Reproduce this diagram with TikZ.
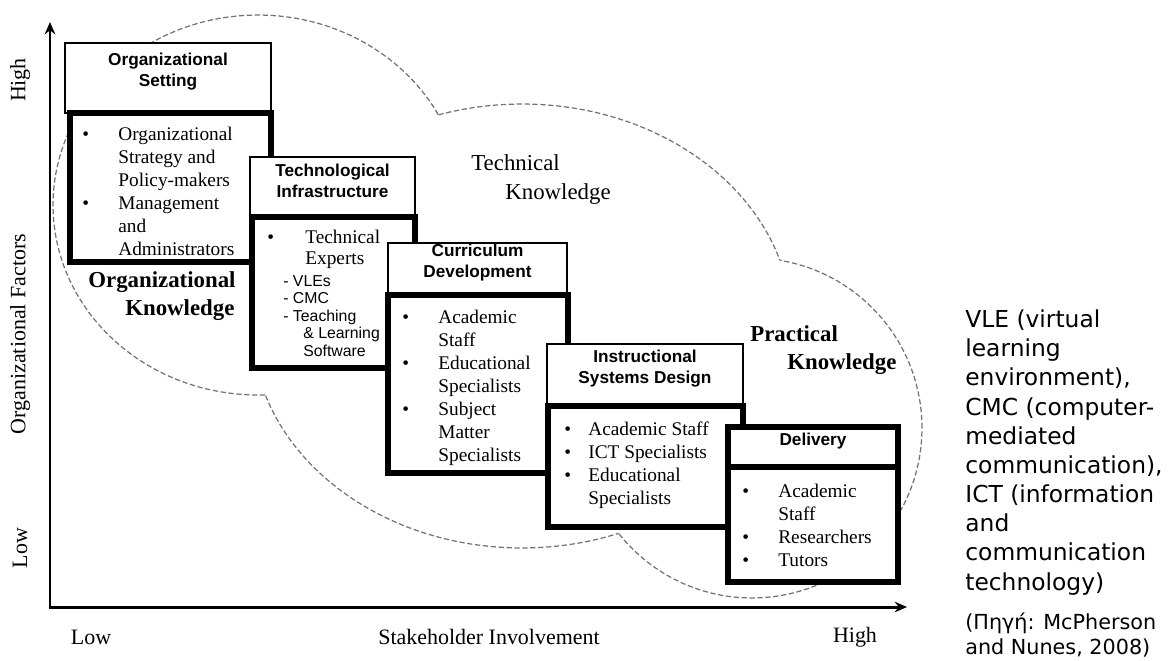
\documentclass[tikz,border=0pt]{standalone}
\usepackage{fontspec}
\setmainfont{Liberation Serif}
\setsansfont{Liberation Sans}
\newfontfamily\notefont{DejaVu Sans}
\usetikzlibrary{positioning,fit,arrows.meta}

\newcommand{\bul}[1][0.72cm]{\makebox[#1][l]{\textbullet}}
\newcommand{\skipbul}[1][0.72cm]{\hspace*{#1}}
\newcommand{\subsf}{\sffamily\fontsize{9}{10}\selectfont}

\begin{document}
\begin{tikzpicture}[x=0.02cm, y=-0.02cm,
    headbox/.style={draw, line width=1.1pt, fill=white, inner sep=0pt, align=center, font=\sffamily\bfseries\fontsize{9.8}{12}\selectfont},
    bodybox/.style={draw, line width=3.4pt, fill=white, inner sep=0pt},
    bodytext/.style={anchor=base west, align=left, inner sep=0pt, font=\fontsize{11}{13}\selectfont},
    knowlabel/.style={anchor=base west, align=left, inner sep=0pt, font=\bfseries\fontsize{13}{15.5}\selectfont},
    axislabel/.style={font=\fontsize{12.5}{14}\selectfont},
    ring/.style={draw=black!55, line width=0.7pt, dash pattern=on 3pt off 1.5pt},
    axisline/.style={line width=1.7pt, {Stealth[length=7pt,width=6pt]}-{Stealth[length=7pt,width=6pt]}}
  ]
  \useasboundingbox (0,0) rectangle (1170,660);

  % knowledge areas, outer outline only
  \begin{scope}[even odd rule]
    \clip (0,0) rectangle (1170,660) (522,326) ellipse [x radius=5.4cm, y radius=4.44cm];
    \clip (0,0) rectangle (1170,660) (752,428) circle [radius=3.4cm];
    \draw[ring] (258,205) ellipse [x radius=4.1cm, y radius=3.8cm];
  \end{scope}
  \begin{scope}[even odd rule]
    \clip (0,0) rectangle (1170,660) (258,205) ellipse [x radius=4.1cm, y radius=3.8cm];
    \clip (0,0) rectangle (1170,660) (752,428) circle [radius=3.4cm];
    \draw[ring] (522,326) ellipse [x radius=5.4cm, y radius=4.44cm];
  \end{scope}
  \begin{scope}[even odd rule]
    \clip (0,0) rectangle (1170,660) (258,205) ellipse [x radius=4.1cm, y radius=3.8cm];
    \clip (0,0) rectangle (1170,660) (522,326) ellipse [x radius=5.4cm, y radius=4.44cm];
    \draw[ring] (752,428) circle [radius=3.4cm];
  \end{scope}

  \node[knowlabel] (orgknow) at (88,315) {Organizational\\\hspace*{0.74cm}Knowledge};
  \node[knowlabel, font=\fontsize{13}{16}\selectfont] (techknow) at (471,199) {Technical\\\hspace*{0.68cm}Knowledge};
  \node[knowlabel] (pracknow) at (750,369) {Practical\\\hspace*{0.74cm}Knowledge};

  % axes
  \coordinate (origin) at (50,607);
  \coordinate (ytip) at (50,22);
  \coordinate (xtip) at (907,607);
  \draw[axisline] (ytip) -- (origin) -- (xtip);
  \node[axislabel, rotate=90] (yhigh) at (20,80) {High};
  \node[axislabel, rotate=90] (yname) at (20,334) {Organizational Factors};
  \node[axislabel, rotate=90] (ylow) at (20,548) {Low};
  \node[axislabel] (xlow) at (91,637) {Low};
  \node[axislabel] (xname) at (489,637) {Stakeholder Involvement};
  \node[axislabel] (xhigh) at (855,637) {High};

  % stages
  \node[headbox, fit={(65,43) (271,113)}] (orghead) {Organizational\\Setting};
  \node[bodybox, fit={(70,113) (271,262)}] (orgbody) {};
  \node[bodytext] (orgtext) at (82,255) {\bul Organizational\\ \skipbul Strategy and\\ \skipbul Policy-makers\\ \bul Management\\ \skipbul and\\ \skipbul Administrators};

  \node[headbox, fit={(250,157) (415,217)}] (techhead) {Technological\\Infrastructure};
  \node[bodybox, fit={(252,217) (415,368)}] (techbody) {};
  \node[bodytext] (techtext) at (267,356) {\bul[0.76cm]Technical\\[-1pt]
    \skipbul[0.76cm]Experts\\[-0.5pt]
    {\subsf\hspace*{0.32cm}- VLEs}\\[-3.2pt]
    {\subsf\hspace*{0.32cm}- CMC}\\[-3pt]
    {\subsf\hspace*{0.32cm}- Teaching}\\[-3pt]
    {\subsf\hspace*{0.72cm}\& Learning}\\[-3.2pt]
    {\subsf\hspace*{0.72cm}Software}};

  \node[headbox, fit={(388,243) (567,295)}] (curhead) {Curriculum\\Development};
  \node[bodybox, fit={(388,295) (568,473)}] (curbody) {};
  \node[bodytext] (curtext) at (402,461) {\bul Academic\\ \skipbul Staff\\ \bul Educational\\ \skipbul Specialists\\ \bul Subject\\ \skipbul Matter\\ \skipbul Specialists};

  \node[headbox, fit={(547,344) (743,406)}] (isdhead) {Instructional\\Systems Design};
  \node[bodybox, fit={(548,406) (743,527)}] (isdbody) {};
  \node[bodytext] (isdtext) at (564,504) {\bul[0.48cm]Academic Staff\\ \bul[0.48cm]ICT Specialists\\ \bul[0.48cm]Educational\\ \skipbul[0.48cm]Specialists};

  \node[headbox, line width=3.4pt, fit={(728,427) (898,467)}] (delhead) {Delivery};
  \node[bodybox, fit={(728,467) (898,582)}] (delbody) {};
  \node[bodytext] (deltext) at (742,566) {\bul Academic\\ \skipbul Staff\\ \bul Researchers\\ \bul Tutors};

  % notes
  \node[anchor=base west, align=left, inner sep=0pt, font=\notefont\fontsize{13.3}{16.6}\selectfont] (abbrev) at (965,590) {VLE (virtual\\learning\\environment),\\CMC (computer-\\mediated\\communication),\\ICT (information\\and\\communication\\technology)};
  \node[anchor=base west, align=left, inner sep=0pt, font=\notefont\fontsize{11.8}{14.2}\selectfont] (source) at (965,654) {(Πηγή: McPherson\\and Nunes, 2008)};
\end{tikzpicture}
\end{document}
